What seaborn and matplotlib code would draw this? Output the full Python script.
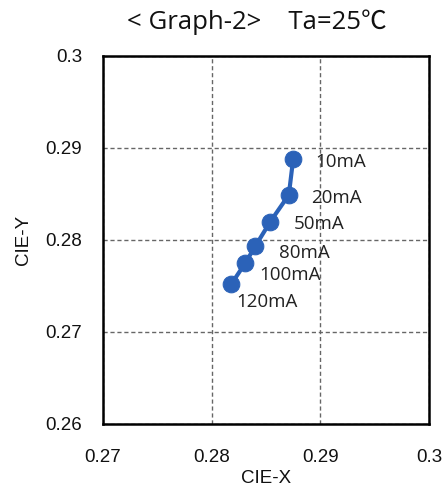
import matplotlib
matplotlib.use("Agg")
import matplotlib.pyplot as plt
import seaborn as sns
import pandas as pd

currents = ["10mA", "20mA", "50mA", "80mA", "100mA", "120mA"]
cie_x = [0.2875, 0.2871, 0.2854, 0.2840, 0.2831, 0.2818]
cie_y = [0.2888, 0.2849, 0.2820, 0.2793, 0.2775, 0.2752]
x_ticks = [0.27, 0.28, 0.29, 0.30]
y_ticks = [0.26, 0.27, 0.28, 0.29, 0.30]
x_tick_labels = ["0.27", "0.28", "0.29", "0.3"]
y_tick_labels = ["0.26", "0.27", "0.28", "0.29", "0.3"]

df = pd.DataFrame({"x": cie_x, "y": cie_y, "label": currents})

sns.set_theme(style="white")
plt.rcParams["font.family"] = ["Liberation Sans", "DejaVu Sans"]

fig = plt.figure(figsize=(4.48, 4.93), dpi=100)
ax = fig.add_axes([103 / 448, 1 - 424 / 493, 326 / 448, 368 / 493])

color = "#2B62B8"
sns.lineplot(data=df, x="x", y="y", sort=False, ax=ax, color=color,
             linewidth=3, marker="o", markersize=12,
             markeredgecolor=color, markerfacecolor=color)

offsets = [(16, -2), (16, -2), (17, -2), (17, -5), (10, -9), (4, -13)]
for (xx, yy, lab), (dx, dy) in zip(zip(cie_x, cie_y, currents), offsets):
    ax.annotate(lab, (xx, yy), xytext=(dx, dy), textcoords="offset points",
                ha="left", va="center", fontsize=13.5,
                family=["Open Sans", "DejaVu Sans"], color="#222222")

ax.set_xlim(0.27, 0.30)
ax.set_ylim(0.26, 0.30)
ax.set_xticks(x_ticks)
ax.set_yticks(y_ticks)
ax.set_xticklabels(x_tick_labels)
ax.set_yticklabels(y_tick_labels)
ax.tick_params(axis="both", length=0, labelsize=13.5, colors="#111111")
ax.tick_params(axis="x", pad=18)
ax.tick_params(axis="y", pad=15)
ax.grid(True, color="#666666", linestyle=(0, (3, 2)), linewidth=1)
for s in ax.spines.values():
    s.set_color("black")
    s.set_linewidth(1.8)
ax.set_xlabel("CIE-X", fontsize=13.5, labelpad=3, color="#111111")
ax.set_ylabel("CIE-Y", fontsize=13.5, labelpad=10, color="#111111")

fig.text(0.574, 1 - 22 / 493, "< Graph-2>    Ta=25℃", ha="center", va="center",
         fontsize=18.5, family=["Open Sans", "Noto Sans CJK KR", "DejaVu Sans"],
         color="#111111")

fig.savefig("out.png", dpi=100)
